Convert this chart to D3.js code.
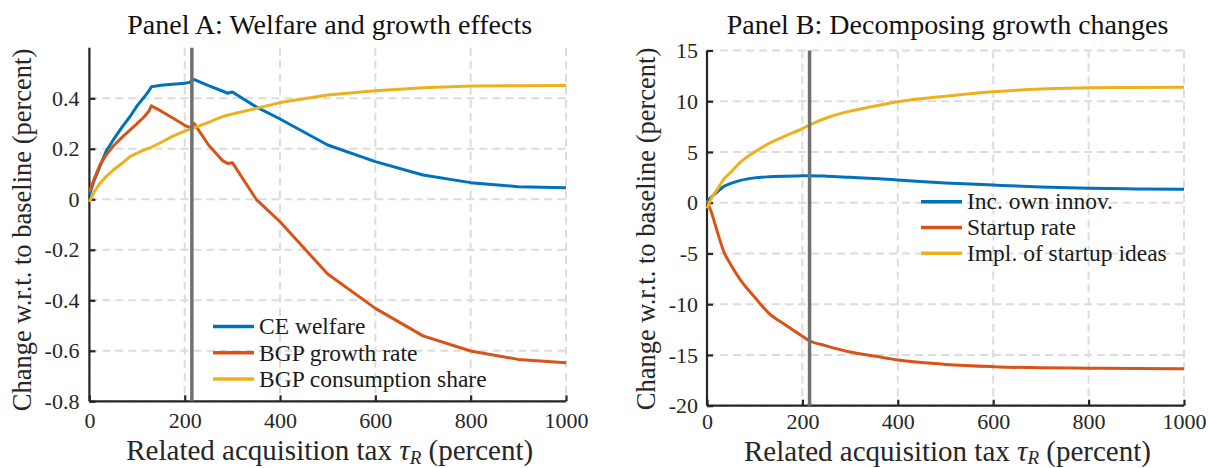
<!DOCTYPE html>
<html>
<head>
<meta charset="utf-8">
<script src="https://cdn.jsdelivr.net/npm/d3@7"></script>
<style>
  body { margin: 0; background: #fff; }
  svg { display: block; }
</style>
</head>
<body>
<svg id="chart" width="1208" height="468"></svg>
<script>
// ---------------- DATA ----------------
const vlineX = 215;

// Panel A
const xA = [0, 10, 22, 35, 50, 70, 85, 100, 115, 125, 130, 150, 175, 200, 210, 215, 220, 250, 280, 290, 300, 350, 400, 500, 600, 700, 800, 900, 1000];
const welfareA = [0.017, 0.075, 0.13, 0.19, 0.235, 0.29, 0.327, 0.37, 0.405, 0.43, 0.446, 0.452, 0.456, 0.46, 0.463, 0.47, 0.474, 0.45, 0.428, 0.42, 0.425, 0.366, 0.318, 0.215, 0.149, 0.096, 0.066, 0.05, 0.046];
const growthA = [0.03, 0.08, 0.136, 0.175, 0.211, 0.248, 0.274, 0.30, 0.327, 0.35, 0.37, 0.35, 0.322, 0.293, 0.285, 0.288, 0.30, 0.215, 0.152, 0.142, 0.145, 0.0, -0.089, -0.296, -0.432, -0.541, -0.601, -0.634, -0.647];
const consA = [-0.01, 0.03, 0.063, 0.09, 0.116, 0.145, 0.169, 0.183, 0.196, 0.202, 0.206, 0.225, 0.25, 0.27, 0.277, 0.281, 0.284, 0.305, 0.328, 0.333, 0.338, 0.36, 0.383, 0.413, 0.43, 0.442, 0.449, 0.45, 0.451];
const yTicksA = [-0.8, -0.6, -0.4, -0.2, 0, 0.2, 0.4];
const yTickLabelsA = ["-0.8", "-0.6", "-0.4", "-0.2", "0", "0.2", "0.4"];
const legendA = ["CE welfare", "BGP growth rate", "BGP consumption share"];

// Panel B
const xB = [0, 10, 20, 35, 50, 70, 100, 130, 160, 200, 215, 250, 300, 350, 400, 500, 600, 700, 800, 900, 1000];
const ownB = [0.1, 0.6, 1.0, 1.6, 1.9, 2.2, 2.45, 2.56, 2.62, 2.65, 2.66, 2.62, 2.5, 2.38, 2.24, 1.95, 1.74, 1.55, 1.42, 1.36, 1.32];
const startupB = [0.2, -1.05, -2.6, -4.8, -6.1, -7.6, -9.3, -10.9, -11.9, -13.15, -13.6, -14.1, -14.7, -15.1, -15.5, -15.93, -16.15, -16.27, -16.3, -16.33, -16.35];
const implB = [-0.55, 0.5, 1.2, 2.3, 3.0, 4.0, 5.0, 5.85, 6.5, 7.3, 7.66, 8.35, 9.03, 9.5, 9.95, 10.5, 10.94, 11.2, 11.33, 11.35, 11.37];
const yTicksB = [-20, -15, -10, -5, 0, 5, 10, 15];
const legendB = ["Inc. own innov.", "Startup rate", "Impl. of startup ideas"];

const xTicks = [0, 200, 400, 600, 800, 1000];
const colors = ["#0072BD", "#D95319", "#EDB120"];

// ---------------- DRAW ----------------
const FONT = "Liberation Serif";
const svg = d3.select("#chart").attr("font-family", FONT);

function panel(cfg) {
  const x = d3.scaleLinear().domain([0, 1000]).range([cfg.left, cfg.right]);
  const y = d3.scaleLinear().domain(cfg.yDomain).range([cfg.bottom, cfg.top]);
  const g = svg.append("g").attr("font-family", FONT);

  // grid
  g.selectAll(".gx").data(xTicks).enter().append("line")
    .attr("x1", d => x(d)).attr("x2", d => x(d))
    .attr("y1", cfg.top).attr("y2", cfg.bottom)
    .attr("stroke", "#dcdcdc").attr("stroke-width", 2).attr("stroke-dasharray", "8,5");
  g.selectAll(".gy").data(cfg.yTicks).enter().append("line")
    .attr("x1", cfg.left).attr("x2", cfg.right)
    .attr("y1", d => y(d)).attr("y2", d => y(d))
    .attr("stroke", "#dcdcdc").attr("stroke-width", 2).attr("stroke-dasharray", "8,5");

  // axes
  const xAxis = d3.axisBottom(x).tickValues(xTicks).tickSize(-6).tickPadding(cfg.xPad).tickFormat(d3.format("d"));
  const yAxis = d3.axisLeft(y).tickValues(cfg.yTicks).tickSize(-6).tickPadding(cfg.yPad)
    .tickFormat((d, i) => cfg.yLabels ? cfg.yLabels[i] : String(d));
  const gx = g.append("g").attr("transform", `translate(0,${cfg.bottom})`).call(xAxis);
  const gy = g.append("g").attr("transform", `translate(${cfg.left},0)`).call(yAxis);
  [gx, gy].forEach(a => {
    a.attr("font-family", FONT).attr("font-size", 22);
    a.select(".domain").attr("stroke", "#262626").attr("stroke-width", 2.2);
    a.selectAll(".tick line").attr("stroke", "#262626").attr("stroke-width", 2.2);
    a.selectAll(".tick text").attr("font-family", FONT).attr("font-size", 22).attr("fill", "#262626");
  });
  gy.select(".domain").attr("d", `M0,${cfg.bottom}V${cfg.top}`);
  gx.select(".domain").attr("d", `M${cfg.left},0H${cfg.right}`);

  // lines
  const line = d3.line().x(d => x(d[0])).y(d => y(d[1])).curve(cfg.curve);
  cfg.series.forEach((s, i) => {
    g.append("path").datum(cfg.xs.map((xv, j) => [xv, s[j]]))
      .attr("d", line).attr("fill", "none").attr("stroke", colors[i])
      .attr("stroke-width", 3).attr("stroke-linejoin", "round");
  });

  // vertical marker
  g.append("line").attr("x1", x(vlineX)).attr("x2", x(vlineX))
    .attr("y1", cfg.top).attr("y2", cfg.bottom)
    .attr("stroke", "#707070").attr("stroke-width", 3.5);

  // legend
  cfg.legend.forEach((name, i) => {
    const ly = cfg.legY + i * cfg.legStep;
    g.append("line").attr("x1", cfg.legX).attr("x2", cfg.legX + 41)
      .attr("y1", ly).attr("y2", ly).attr("stroke", colors[i]).attr("stroke-width", 3.5);
    g.append("text").attr("x", cfg.legX + 46).attr("y", ly).attr("dy", "0.33em")
      .attr("font-family", FONT).attr("font-size", 23.5).attr("fill", "#1a1a1a").text(name);
  });

  // title
  g.append("text").attr("x", (cfg.left + cfg.right) / 2 + 2).attr("y", 34)
    .attr("text-anchor", "middle").attr("font-family", FONT).attr("font-size", 28)
    .attr("fill", "#111").text(cfg.title);

  // x label
  const xl = g.append("text").attr("x", (cfg.left + cfg.right) / 2 + 2).attr("y", cfg.xLabY)
    .attr("text-anchor", "middle").attr("font-family", FONT).attr("font-size", 29).attr("fill", "#262626");
  xl.append("tspan").text("Related acquisition tax ");
  xl.append("tspan").attr("font-style", "italic").text("τ");
  xl.append("tspan").attr("font-style", "italic").attr("font-size", 19).attr("dy", 3.5).text("R");
  xl.append("tspan").attr("dy", -3.5).text(" (percent)");

  // y label
  g.append("text").attr("transform", `translate(${cfg.yLabX},${cfg.yLabY}) rotate(-90)`)
    .attr("text-anchor", "middle").attr("font-family", FONT).attr("font-size", 26.5)
    .attr("fill", "#262626").text("Change w.r.t. to baseline (percent)");
}

panel({
  left: 89.4, right: 566, top: 47.8, bottom: 401.3, yDomain: [-0.8, 0.6],
  yTicks: yTicksA, yLabels: yTickLabelsA, xs: xA, series: [welfareA, growthA, consA],
  legend: legendA, legX: 213, legY: 326.5, legStep: 26.3, curve: d3.curveLinear,
  title: "Panel A: Welfare and growth effects", yLabX: 31, yLabY: 230, xPad: 11.5, yPad: 10, xLabY: 460
});
panel({
  left: 707, right: 1184, top: 50.5, bottom: 405.7, yDomain: [-20, 15],
  yTicks: yTicksB, xs: xB, series: [ownB, startupB, implB],
  legend: legendB, legX: 921, legY: 201.7, legStep: 25.8, curve: d3.curveMonotoneX,
  title: "Panel B: Decomposing growth changes", yLabX: 655, yLabY: 229, xPad: 8, yPad: 9, xLabY: 460.5
});
</script>
</body>
</html>
